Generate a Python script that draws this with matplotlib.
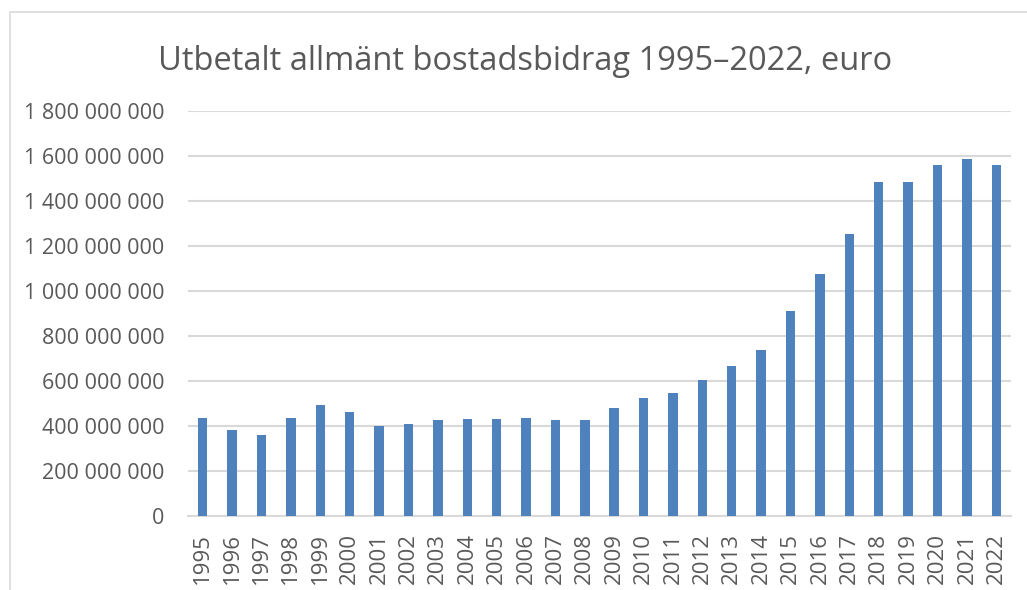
import matplotlib
matplotlib.use("Agg")
import matplotlib.pyplot as plt
from matplotlib.patches import Rectangle
from matplotlib.ticker import FuncFormatter, MultipleLocator

# ===============================
# DATA
# ===============================
years = [str(y) for y in range(1995, 2023)]
paid_eur = [
    437e6, 384e6, 362e6, 436e6, 493e6, 464e6, 399e6, 411e6, 427e6, 433e6,
    433e6, 436e6, 428e6, 425e6, 479e6, 526e6, 548e6, 603e6, 665e6, 738e6,
    913e6, 1076e6, 1255e6, 1483e6, 1486e6, 1562e6, 1585e6, 1560e6,
]
title = "Utbetalt allmänt bostadsbidrag 1995–2022, euro"

BAR_COLOR = "#4F81BD"
TEXT_COLOR = "#595959"
GRID_COLOR = "#D9D9D9"

plt.rcParams["font.family"] = ["Open Sans", "DejaVu Sans"]

fig = plt.figure(figsize=(10.27, 5.90), dpi=100)
W, H = 1027, 590
# plot area in pixels: left 188, right 1011, top 111, bottom 516
ax = fig.add_axes([188 / W, 1 - 516 / H, (1011 - 188) / W, (516 - 111) / H])

x = list(range(len(years)))
ax.bar(x, paid_eur, width=0.32, color=BAR_COLOR, zorder=3)

ax.set_xlim(-0.5, len(years) - 0.5)
ax.set_ylim(0, 1.8e9)
ax.yaxis.set_major_locator(MultipleLocator(2e8))
ax.yaxis.set_major_formatter(
    FuncFormatter(lambda v, _: f"{int(round(v)):,}".replace(",", " "))
)
ax.set_xticks(x)
ax.set_xticklabels(years, rotation=90)

ax.grid(axis="y", color=GRID_COLOR, linewidth=1.5, zorder=0)
for side in ["top", "right", "left"]:
    ax.spines[side].set_visible(False)
ax.spines["bottom"].set_color(GRID_COLOR)
ax.spines["bottom"].set_linewidth(1.5)
ax.tick_params(axis="both", length=0, labelcolor=TEXT_COLOR)
ax.tick_params(axis="y", labelsize=15.5, pad=17)
ax.tick_params(axis="x", labelsize=16, pad=12)

fig.text(525 / W, 1 - 62 / H, title, ha="center", va="center",
         fontsize=23.5, color=TEXT_COLOR)

# outer chart frame
fig.patches.append(Rectangle((10 / W, -0.1), 1.2, 1 - 12 / H + 0.1,
                             transform=fig.transFigure, fill=False,
                             edgecolor=GRID_COLOR, linewidth=1.2))

plt.savefig("out.png", dpi=100)
plt.close()
